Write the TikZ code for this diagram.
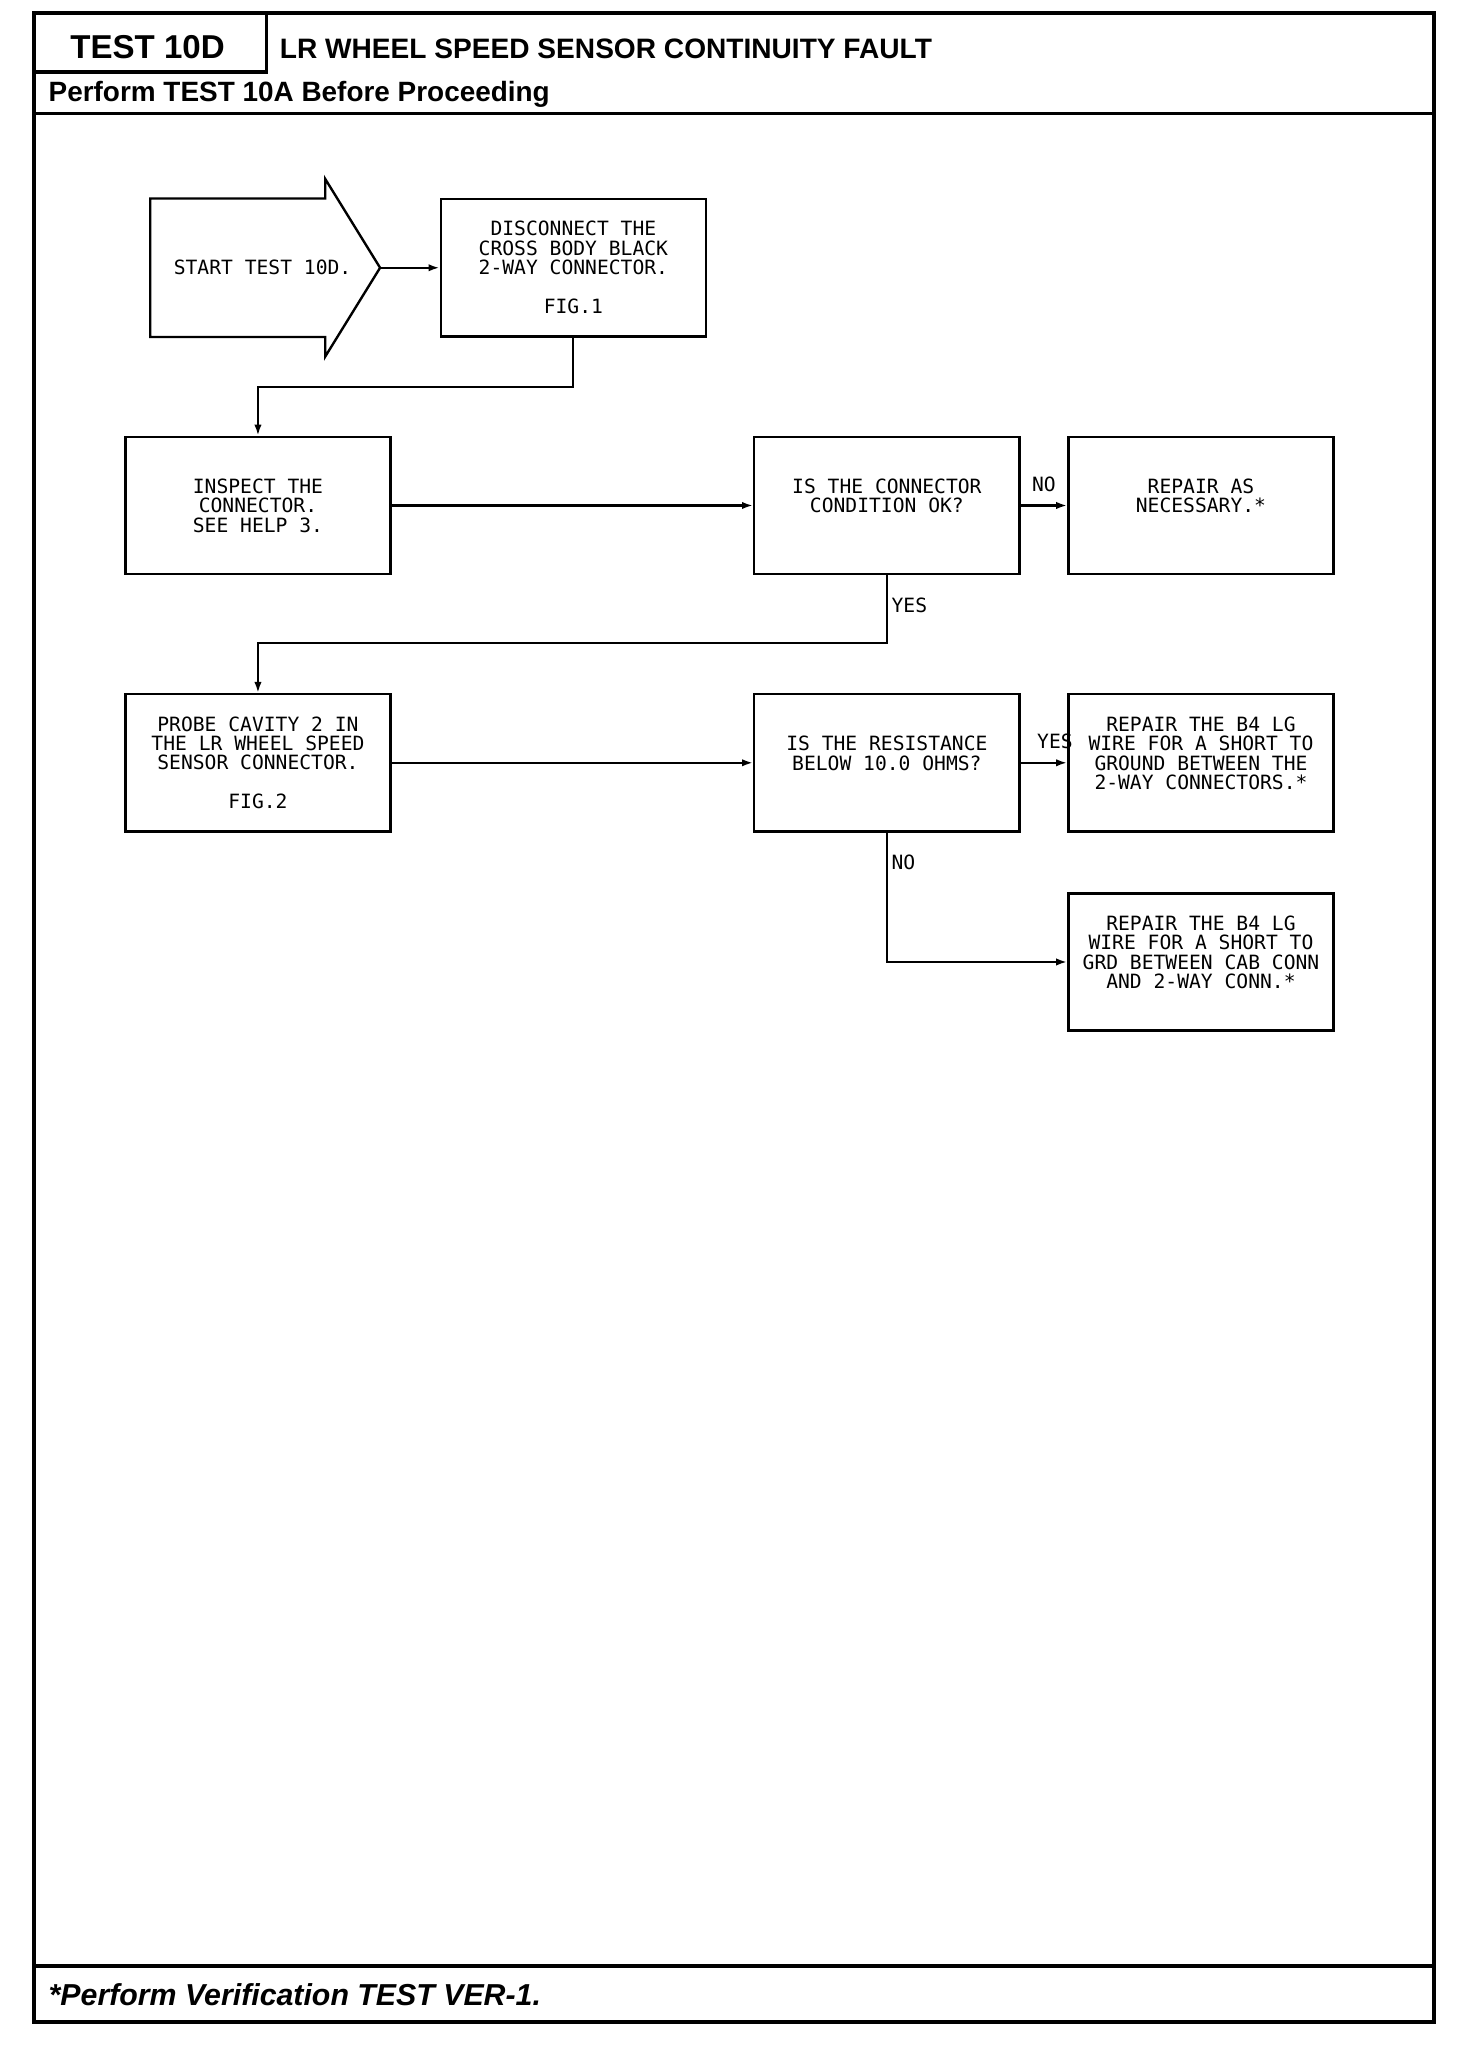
\documentclass[tikz,border=0pt]{standalone}
\usepackage{fontspec}
\setmainfont{Liberation Sans}
\newfontfamily\plotfont{DejaVu Sans Mono}
\usetikzlibrary{arrows.meta}

\begin{document}
\begin{tikzpicture}[x=0.025cm, y=-0.025cm, line join=miter,
		stepbox/.style={draw, line width=1.3pt, minimum width=5.075cm, minimum height=2.625cm,
			inner sep=0pt, align=center, font=\plotfont\fontsize{10.7}{10.6}\selectfont},
		tag/.style={font=\plotfont\fontsize{10.7}{10.6}\selectfont, inner sep=2pt},
		flow/.style={line width=1.2pt, -{Latex[length=6pt, width=4pt]}},
		sheetline/.style={line width=2pt}]
		\useasboundingbox (0, 0) rectangle (1127, 1568);
		% sheet frame and header rows
		\draw[sheetline] (26, 10) rectangle (1098, 1548);
		\draw[sheetline] (204, 10) -- (204, 55) -- (26, 55);
		\draw[sheetline] (26, 87) -- (1098, 87);
		\draw[sheetline] (26, 1505) -- (1098, 1505);
		\node[inner sep=0pt, font=\bfseries\fontsize{18}{20}\selectfont] (testno) at (113, 36) {TEST 10D};
		\node[anchor=west, inner sep=0pt, font=\bfseries\fontsize{15.3}{17}\selectfont] (title) at (214, 37) {LR WHEEL SPEED SENSOR CONTINUITY FAULT};
		\node[anchor=west, inner sep=0pt, font=\bfseries\fontsize{15.2}{17}\selectfont] (before) at (37, 72) {Perform TEST 10A Before Proceeding};
		\node[anchor=west, inner sep=0pt, font=\bfseries\itshape\fontsize{16.5}{18}\selectfont] (verify) at (37, 1527) {*Perform Verification TEST VER-1.};

		% start arrow
		\draw[line width=1.3pt] (115, 152) -- (249, 152) -- (249, 137) -- (291, 205) -- (249, 273) -- (249, 258) -- (115, 258) -- cycle;
		\node[tag] (start) at (201, 205) {START TEST 10D.};
		\coordinate (tip) at (291, 205);

		% steps
		\node[stepbox] (disc) at (439, 205) {DISCONNECT THE\\CROSS BODY BLACK\\2-WAY CONNECTOR.\\[10.6pt]FIG.1};
		\node[stepbox] (insp) at (197.5, 387) {INSPECT THE\\CONNECTOR.\\SEE HELP 3.};
		\node[stepbox] (cond) at (679, 387) {IS THE CONNECTOR\\CONDITION OK?\\~};
		\node[stepbox] (repair) at (919.5, 387) {REPAIR AS\\NECESSARY.*\\~};
		\node[stepbox] (probe) at (197.5, 584) {PROBE CAVITY 2 IN\\THE LR WHEEL SPEED\\SENSOR CONNECTOR.\\[10.6pt]FIG.2};
		\node[stepbox] (resist) at (679, 584) {IS THE RESISTANCE\\BELOW 10.0 OHMS?\\~};
		\node[stepbox] (fixgnd) at (919.5, 584) {REPAIR THE B4 LG\\WIRE FOR A SHORT TO\\GROUND BETWEEN THE\\2-WAY CONNECTORS.*\\~};
		\node[stepbox] (fixcab) at (919.5, 736.5) {REPAIR THE B4 LG\\WIRE FOR A SHORT TO\\GRD BETWEEN CAB CONN\\AND 2-WAY CONN.*\\~};

		% connectors
		\draw[flow] (tip) -- (disc.west);
		\draw[flow] (disc.south) -- ++(0, 38) -| (insp.north);
		\draw[flow] (insp) -- (cond);
		\draw[flow] (cond) -- node[tag, above=5pt] {NO} (repair);
		\draw[flow] (cond.south) -- node[tag, right, pos=0.45] {YES} ++(0, 52) -| (probe.north);
		\draw[flow] (probe) -- (resist);
		\draw[flow] (resist) -- node[tag, above=5pt, xshift=6pt] {YES} (fixgnd);
		\draw[flow] (resist.south) |- node[tag, right, pos=0.115] {NO} (fixcab.west);
	\end{tikzpicture}
\end{document}
